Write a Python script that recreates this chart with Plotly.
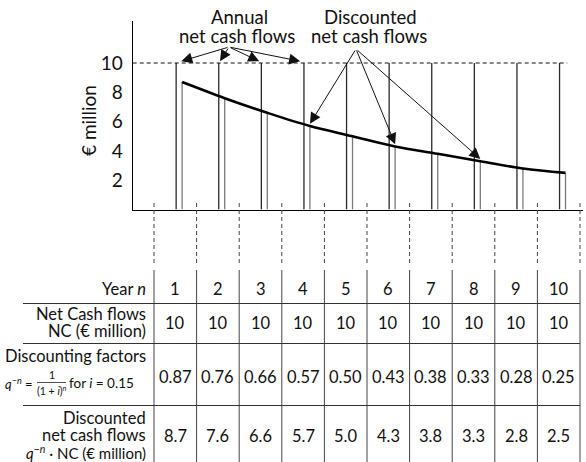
import plotly.graph_objects as go

# ---------------- data ----------------
years = [1, 2, 3, 4, 5, 6, 7, 8, 9, 10]
net_cash_flows = [10, 10, 10, 10, 10, 10, 10, 10, 10, 10]
discount_factors = [0.87, 0.76, 0.66, 0.57, 0.50, 0.43, 0.38, 0.33, 0.28, 0.25]
discounted_flows = [8.7, 7.6, 6.6, 5.7, 5.0, 4.3, 3.8, 3.3, 2.8, 2.5]
y_ticks = [2, 4, 6, 8, 10]
annual_arrow_years = [1, 2, 3, 4]
discounted_arrow_years = [4, 6, 8]

# ---------------- geometry / style ----------------
W, H = 586, 462
FONT = "Lato"
PX_HALF = 154.0      # pixel of x = 0.5
PX_STEP = 42.6       # pixels per year
Y0_PX = 209.5        # pixel of y = 0
PX_PER_UNIT = 14.65  # pixels per € million
TOP_PX = 21


def px_to_x(p):
    return 0.5 + (p - PX_HALF) / PX_STEP


def py_to_y(p):
    return (Y0_PX - p) / PX_PER_UNIT


OFF_NC = 0.02   # offset of annual lines within a year
OFF_DC = 0.16   # offset of discounted lines within a year

fig = go.Figure()

# annual net cash flow lines
xs, ys = [], []
for n, v in zip(years, net_cash_flows):
    xs += [n + OFF_NC, n + OFF_NC, None]
    ys += [0, v, None]
fig.add_trace(go.Scatter(x=xs, y=ys, mode="lines",
                         line=dict(color="#2a2a2a", width=1.3), hoverinfo="skip"))

# discounted lines
xs, ys = [], []
for n, v in zip(years, discounted_flows):
    xs += [n + OFF_DC, n + OFF_DC, None]
    ys += [0, v, None]
fig.add_trace(go.Scatter(x=xs, y=ys, mode="lines",
                         line=dict(color="#7a7a7a", width=1.3), hoverinfo="skip"))

# dashed level line at 10
fig.add_trace(go.Scatter(x=[0, years[-1] + 0.2], y=[net_cash_flows[0]] * 2, mode="lines",
                         line=dict(color="#111", width=1, dash="4px,3px"), hoverinfo="skip"))

# discounted curve
fig.add_trace(go.Scatter(x=[n + OFF_DC for n in years], y=discounted_flows, mode="lines",
                         line=dict(color="black", width=2.6, shape="spline"), hoverinfo="skip"))

# axis arrowheads
x_end = px_to_x(583)
y_end = py_to_y(TOP_PX)
fig.add_trace(go.Scatter(x=[0], y=[y_end + 0.12], mode="markers", cliponaxis=False,
                         marker=dict(symbol="triangle-up", size=10, color="black"),
                         hoverinfo="skip"))
fig.add_trace(go.Scatter(x=[x_end + 0.03], y=[0], mode="markers", cliponaxis=False,
                         marker=dict(symbol="triangle-right", size=9, color="black"),
                         hoverinfo="skip"))

# ---------------- table (overlay axes in pixel units vertically) ----------------
bounds = [n - 0.5 for n in years] + [years[-1] + 0.5]

xs, ys = [], []
for b in bounds:
    xs += [b, b, None]
    ys += [203, 263, None]
fig.add_trace(go.Scatter(x=xs, y=ys, mode="lines", xaxis="x2", yaxis="y2",
                         line=dict(color="#444", width=1, dash="4px,3px"), hoverinfo="skip"))

xs, ys = [], []
for b in bounds:
    xs += [b, b, None]
    ys += [270, 462, None]
fig.add_trace(go.Scatter(x=xs, y=ys, mode="lines", xaxis="x2", yaxis="y2",
                         line=dict(color="#444", width=1), hoverinfo="skip"))

xs, ys = [], []
for yy in [303.5, 343.5, 405.5]:
    xs += [px_to_x(23), bounds[-1], None]
    ys += [yy, yy, None]
fig.add_trace(go.Scatter(x=xs, y=ys, mode="lines", xaxis="x2", yaxis="y2",
                         line=dict(color="#333", width=1), hoverinfo="skip"))

# fraction bar
fig.add_trace(go.Scatter(x=[px_to_x(37), px_to_x(66)], y=[382.5, 382.5], mode="lines",
                         xaxis="x2", yaxis="y2",
                         line=dict(color="#222", width=0.8), hoverinfo="skip"))

ann = []


def t2(text, x, y, size=16.5, xanchor="center", color="#111"):
    ann.append(dict(text=text, x=x, y=y, xref="x2", yref="y2", showarrow=False,
                    xanchor=xanchor, yanchor="middle",
                    font=dict(family=FONT, size=size, color=color)))


for n in years:
    t2(str(n), n, 289)
for n, v in zip(years, net_cash_flows):
    t2(str(v), n, 323)
for n, v in zip(years, discount_factors):
    t2(f"{v:.2f}", n, 377)
for n, v in zip(years, discounted_flows):
    t2(f"{v:.1f}", n, 436)

LX = px_to_x(148)
t2("Year <i>n</i>", LX, 289, xanchor="right")
t2("Net Cash flows", LX, 314, xanchor="right")
t2("NC (€ million)", LX, 331, xanchor="right")
t2("Discounting factors", LX, 356, xanchor="right")
t2("<i>q</i><sup>−<i>n</i></sup> =", px_to_x(35), 383, size=13, xanchor="right")
t2("1", px_to_x(51.5), 375, size=10.5)
t2("(1 + <i>i</i>)<sup><i>n</i></sup>", px_to_x(51.5), 390, size=10.5)
t2("for <i>i</i> = 0.15", px_to_x(67), 383, size=13.5, xanchor="left")
t2("Discounted", LX, 418, xanchor="right")
t2("net cash flows", LX, 435, xanchor="right")
t2("<i>q</i><sup>−<i>n</i></sup> · NC (€ million)", LX, 452, size=15, xanchor="right")

# chart labels
t2("Annual", px_to_x(239), 17, size=18.5)
t2("net cash flows", px_to_x(237), 36, size=18.5)
t2("Discounted", px_to_x(370), 17, size=18.5)
t2("net cash flows", px_to_x(369), 36, size=18.5)
ann.append(dict(text="€ million", x=px_to_x(88), y=121, xref="x2", yref="y2",
                showarrow=False, textangle=-90, xanchor="center", yanchor="middle",
                font=dict(family=FONT, size=19, color="#111")))

# arrows
tail_a = (px_to_x(229), py_to_y(47))
annual_tip_shift = {1: 0.14, 2: 0.05, 3: -0.03, 4: -0.07}
for n in annual_arrow_years:
    ann.append(dict(x=n + annual_tip_shift[n], y=net_cash_flows[n - 1] + 0.12,
                    xref="x", yref="y", ax=tail_a[0], ay=tail_a[1], axref="x", ayref="y",
                    text="", showarrow=True, arrowhead=2, arrowsize=2.2, arrowwidth=1,
                    arrowcolor="#111", standoff=0))
tail_d = (px_to_x(356), py_to_y(49))
for n in discounted_arrow_years:
    ann.append(dict(x=n + OFF_DC, y=discounted_flows[n - 1] + 0.15,
                    xref="x", yref="y", ax=tail_d[0], ay=tail_d[1], axref="x", ayref="y",
                    text="", showarrow=True, arrowhead=2, arrowsize=2.2, arrowwidth=1,
                    arrowcolor="#111", standoff=0))

fig.update_layout(
    width=W, height=H,
    margin=dict(l=0, r=0, t=0, b=0),
    paper_bgcolor="white", plot_bgcolor="rgba(0,0,0,0)",
    showlegend=False,
    font=dict(family=FONT, color="#111"),
    xaxis=dict(domain=[133 / W, 583 / W], range=[px_to_x(133), x_end], anchor="y",
               showline=True, linecolor="black", linewidth=1.5, ticks="",
               showticklabels=False, showgrid=False, zeroline=False, fixedrange=True),
    yaxis=dict(domain=[(H - Y0_PX) / H, (H - TOP_PX) / H], range=[0, y_end], anchor="x",
               showline=True, linecolor="black", linewidth=1.5, ticks="",
               tickvals=y_ticks, ticklabelstandoff=5,
               tickfont=dict(family=FONT, size=19, color="#111"),
               showgrid=False, zeroline=False, fixedrange=True),
    xaxis2=dict(domain=[0, 1], range=[px_to_x(0), px_to_x(W)], anchor="y2",
                visible=False, fixedrange=True),
    yaxis2=dict(domain=[0, 1], range=[H, 0], anchor="x2", visible=False, fixedrange=True),
    annotations=ann,
)

fig.write_html("out.html", config={"staticPlot": True},
               post_script="document.body.style.margin='0';document.body.style.overflow='hidden';")
